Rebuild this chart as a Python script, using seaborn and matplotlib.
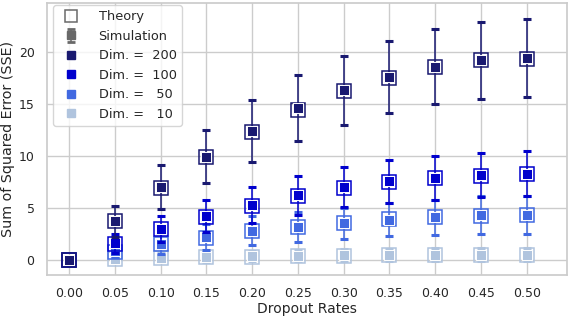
import numpy as np
import pandas as pd
import matplotlib
matplotlib.use('Agg')
import matplotlib.pyplot as plt
import seaborn as sns
from matplotlib.lines import Line2D

rates = [0.00, 0.05, 0.10, 0.15, 0.20, 0.25, 0.30, 0.35, 0.40, 0.45, 0.50]
dims = [10, 50, 100, 200]
colors = {10: '#b0c4de', 50: '#4169e1', 100: '#0000cd', 200: '#191970'}

sim = {
    200: [0, 3.7, 7.0, 9.9, 12.4, 14.6, 16.3, 17.6, 18.6, 19.2, 19.4],
    100: [0, 1.6, 3.0, 4.2, 5.3, 6.2, 7.0, 7.55, 7.9, 8.15, 8.3],
    50: [0, 0.85, 1.55, 2.2, 2.8, 3.2, 3.5, 3.85, 4.1, 4.3, 4.3],
    10: [0, 0.1, 0.2, 0.3, 0.35, 0.4, 0.45, 0.45, 0.5, 0.5, 0.5],
}
theory = {
    200: [0, 3.7, 6.95, 9.85, 12.35, 14.45, 16.2, 17.5, 18.55, 19.2, 19.35],
    100: [0, 1.55, 2.95, 4.15, 5.2, 6.1, 6.9, 7.5, 7.85, 8.1, 8.25],
    50: [0, 0.8, 1.5, 2.15, 2.75, 3.2, 3.55, 3.9, 4.1, 4.2, 4.3],
    10: [0, 0.05, 0.15, 0.25, 0.3, 0.35, 0.4, 0.45, 0.45, 0.5, 0.5],
}
err = {
    200: [0, 1.5, 2.1, 2.55, 2.95, 3.2, 3.35, 3.5, 3.65, 3.7, 3.75],
    100: [0, 0.9, 1.25, 1.55, 1.75, 1.9, 1.95, 2.05, 2.1, 2.15, 2.15],
    50: [0, 0.6, 1.0, 1.25, 1.4, 1.45, 1.5, 1.6, 1.7, 1.8, 1.8],
    10: [0, 0.35, 0.45, 0.5, 0.5, 0.55, 0.55, 0.55, 0.6, 0.6, 0.6],
}

sns.set_theme(style='whitegrid')
plt.rcParams['font.family'] = ['DejaVu Sans']

fig, ax = plt.subplots(figsize=(5.74, 3.16), dpi=100)
fig.subplots_adjust(left=0.082, right=0.988, top=0.99, bottom=0.13)

for i, d in enumerate(dims):
    c = colors[d]
    z = 3 + i * 3
    ax.errorbar(rates, sim[d], yerr=err[d], fmt='none', ecolor=c, elinewidth=1.1,
                capsize=3, capthick=2.2, zorder=z)
    ax.plot(rates, theory[d], ls='', marker='s', ms=9.5, mfc='none', mec=c, mew=1.1, zorder=z + 1)
    df = pd.DataFrame({'rate': rates, 'sse': sim[d]})
    sns.scatterplot(data=df, x='rate', y='sse', marker='s', color=c, s=42,
                    edgecolor='white', linewidth=0.7, ax=ax, zorder=z + 2, legend=False)

ax.set_xlim(-0.024, 0.544)
ax.set_ylim(-1.45, 24.7)
ax.set_xticks(rates)
ax.set_xticklabels([f'{r:.2f}' for r in rates])
ax.set_yticks([0, 5, 10, 15, 20])
ax.tick_params(labelsize=9, pad=3)
ax.set_xlabel('Dropout Rates', fontsize=10, labelpad=1)
ax.set_ylabel('Sum of Squared Error (SSE)', fontsize=10.3, labelpad=3)

h_theory = Line2D([], [], ls='', marker='s', ms=9, mfc='none', mec='dimgray', mew=1.1)
h_sim = ax.errorbar([np.nan], [np.nan], yerr=[1], fmt='s', color='dimgray', ms=6,
                    elinewidth=1.1, capsize=3, capthick=2)
handles = [h_theory, h_sim]
labels = ['Theory', 'Simulation']
for d in dims[::-1]:
    handles.append(Line2D([], [], ls='', marker='s', ms=6, color=colors[d]))
    labels.append(f'Dim. = {d:4d}')
ax.legend(handles, labels, loc='upper left', bbox_to_anchor=(0.012, 0.993), fontsize=9.3,
          frameon=True, borderaxespad=0, labelspacing=0.5, handletextpad=1.1)

fig.savefig('out.png', dpi=100)
